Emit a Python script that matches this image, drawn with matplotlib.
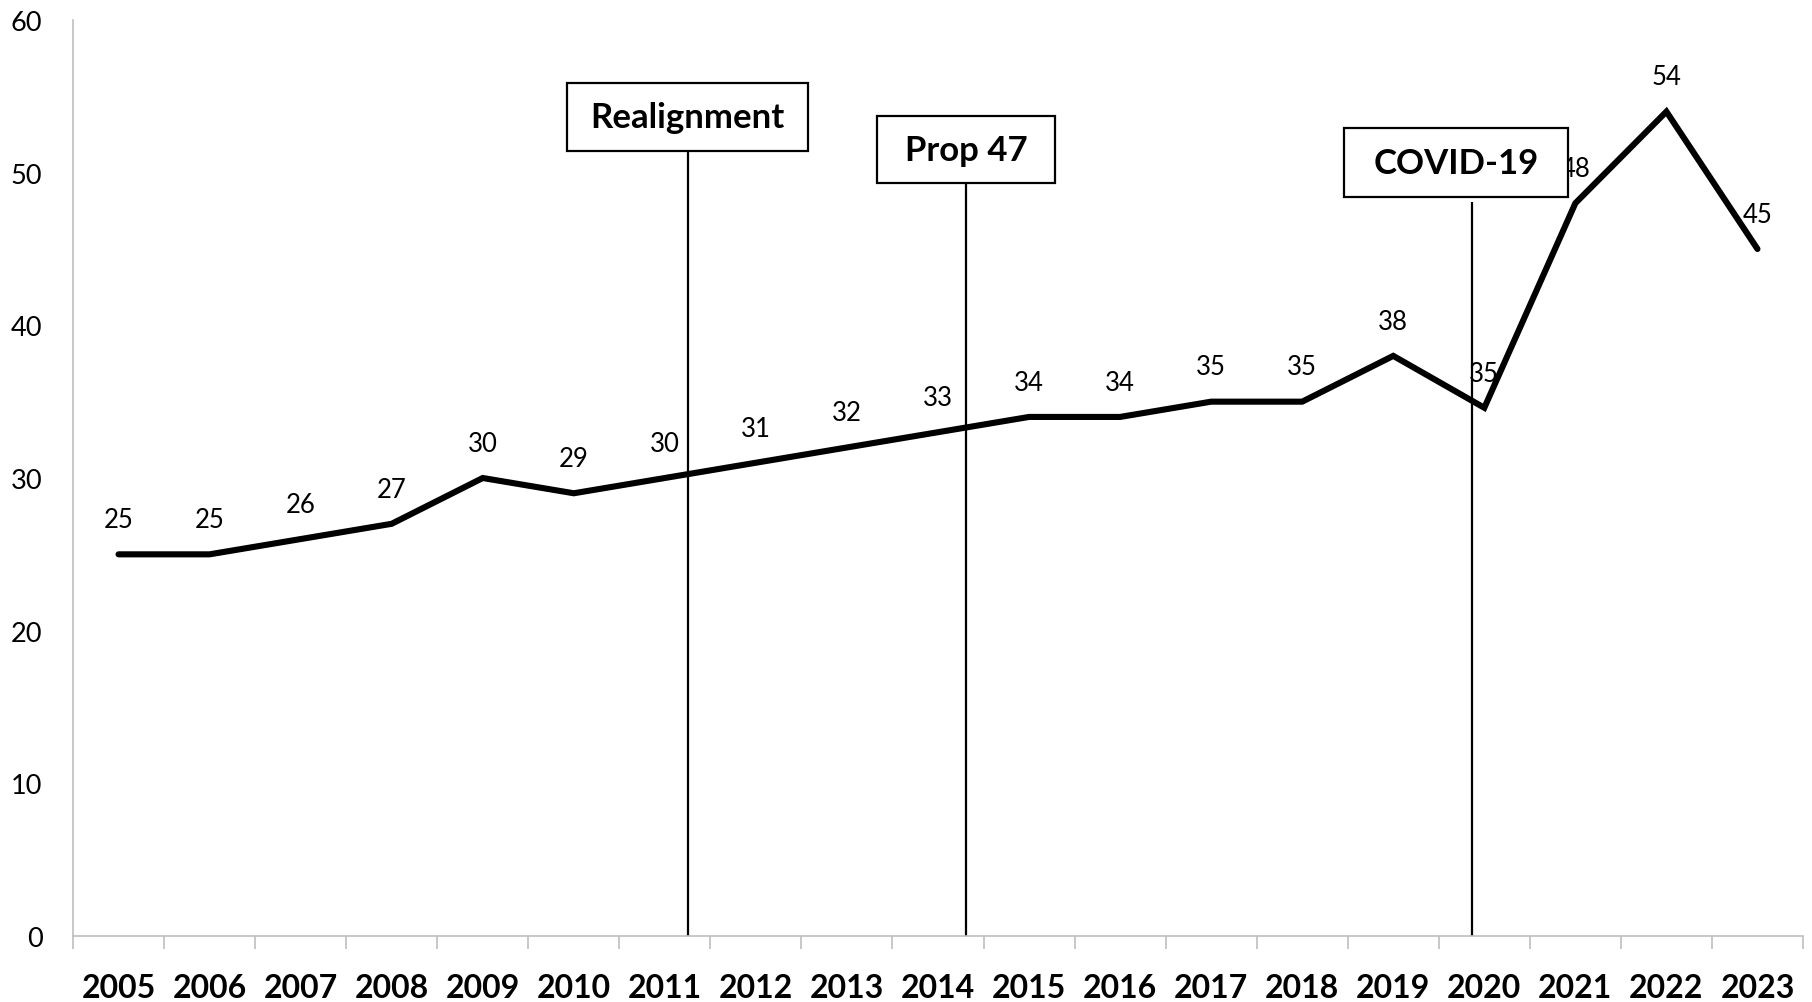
import matplotlib
matplotlib.use("Agg")
import matplotlib.pyplot as plt
from matplotlib.patches import Rectangle
from matplotlib.ticker import FixedLocator

years = ["2005", "2006", "2007", "2008", "2009", "2010", "2011", "2012", "2013", "2014",
         "2015", "2016", "2017", "2018", "2019", "2020", "2021", "2022", "2023"]
values = [25, 25, 26, 27, 30, 29, 30, 31, 32, 33, 34, 34, 35, 35, 38, 34.6, 48, 54, 45]
value_labels = ["25", "25", "26", "27", "30", "29", "30", "31", "32", "33", "34", "34",
                "35", "35", "38", "35", "48", "54", "45"]

event_names = ["Realignment", "Prop 47", "COVID-19"]
event_x = [6.25, 9.31, 14.86]          # category index positions of the vertical lines
box_center_x = [6.25, 9.31, 14.69]
box_width = [2.64, 1.96, 2.46]
box_bottom = [51.45, 49.3, 48.4]
box_height = [4.45, 4.4, 4.5]
line_top = [51.45, 49.3, 48.1]

plt.rcParams['font.family'] = ['Lato', 'DejaVu Sans']

fig = plt.figure(figsize=(18.12, 10.03), dpi=100)
ax = fig.add_axes([73 / 1812, 66 / 1003, (1803 - 73) / 1812, (982 - 66) / 1003])

x = list(range(len(years)))
ax.plot(x, values, color="black", lw=4.4, solid_joinstyle="miter", solid_capstyle="round", zorder=3)

for xi, v, lab in zip(x, values, value_labels):
    ax.annotate(lab, (xi, v), xytext=(0, 25), textcoords="offset points",
                ha="center", va="center", fontsize=18.5, color="black", zorder=4)

for name, ex, bx, bw, bb, bh, lt in zip(event_names, event_x, box_center_x, box_width,
                                         box_bottom, box_height, line_top):
    ax.vlines(ex, 0, lt, color="black", lw=1.6, zorder=2)
    ax.add_patch(Rectangle((bx - bw / 2, bb), bw, bh, facecolor="white",
                           edgecolor="black", lw=1.6, zorder=5))
    ax.text(bx, bb + bh / 2, name, ha="center", va="center", fontsize=25,
            fontweight="bold", zorder=6)

ax.set_xlim(-0.5, len(years) - 0.5)
ax.set_ylim(0, 60)
ax.set_yticks([0, 10, 20, 30, 40, 50, 60])
ax.tick_params(axis="y", length=0, pad=22, labelsize=19.5)

ax.set_xticks(x)
ax.set_xticklabels(years, fontsize=23, fontweight="bold")
ax.xaxis.set_minor_locator(FixedLocator([i - 0.5 for i in range(len(years) + 1)]))
ax.tick_params(axis="x", which="major", length=0, pad=27)
ax.tick_params(axis="x", which="minor", length=9.5, width=1.2, color="#BFBFBF")

for s in ["top", "right"]:
    ax.spines[s].set_visible(False)
for s in ["left", "bottom"]:
    ax.spines[s].set_color("#BFBFBF")
    ax.spines[s].set_linewidth(1.2)

fig.savefig("out.png", dpi=100)
